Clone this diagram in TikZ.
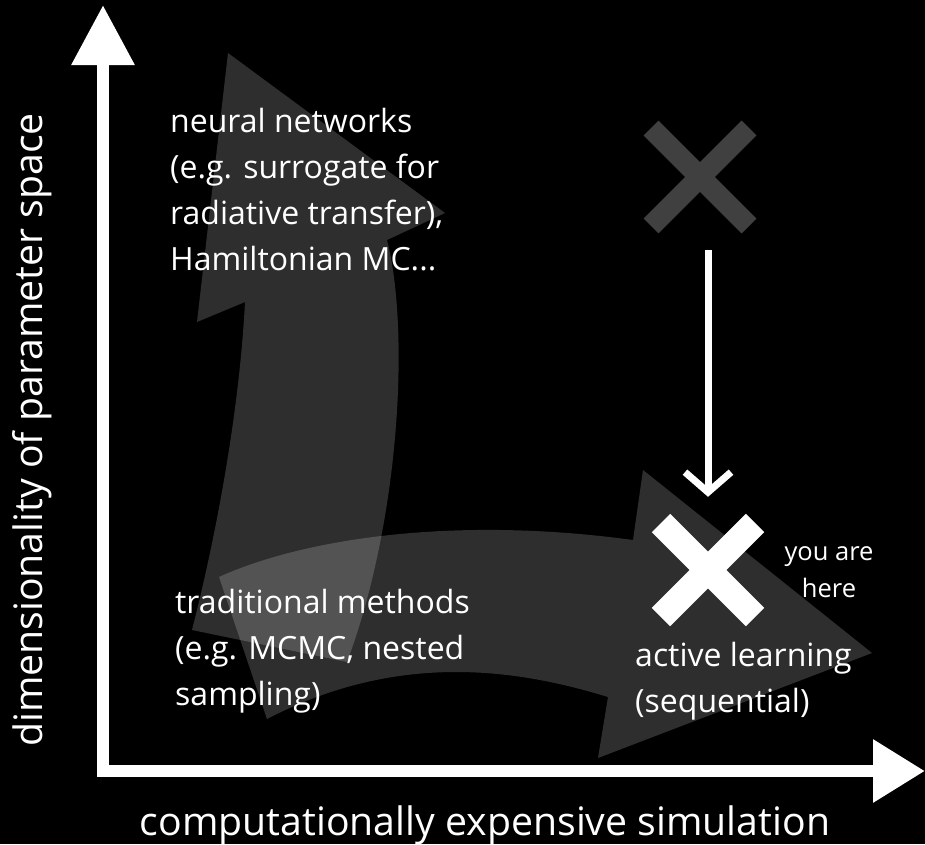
\documentclass[tikz,border=0pt]{standalone}
\usepackage{fontspec}
\setmainfont{Open Sans}
\usetikzlibrary{arrows.meta}
\definecolor{xgray}{HTML}{404040}
\begin{document}
\begin{tikzpicture}[x=1pt,y=-1pt,
  bigarrow/.style={fill=white, fill opacity=0.18},
  axisline/.style={draw=white, line width=12.5pt, line join=miter},
  lbl/.style={text=white, font=\fontsize{32}{46}\selectfont, align=left, inner sep=0pt},
  small/.style={text=white, font=\fontsize{25.5}{37}\selectfont, align=center, inner sep=0pt},
  axlbl/.style={text=white, font=\fontsize{39.2}{46}\selectfont, inner sep=0pt},
  xbox/.style={minimum size=146pt, inner sep=0pt},
  grayx/.style={draw=xgray, line width=21pt},
  whitex/.style={draw=white, line width=26pt},
  conn/.style={draw=white, line width=7pt, -{Straight Barb[length=20pt,width=46pt]}}]
\useasboundingbox (0,0) rectangle (925,844);
\fill[black] (0,0) rectangle (925,844);

% translucent vertical curved arrow
\path[bigarrow] (192,630) -- (347,662)
  .. controls (400,520) and (410,330) .. (387,240)
  -- (445,213) -- (228,53) -- (197,322) -- (245,302)
  .. controls (240,400) and (220,520) .. (192,630) -- cycle;
% translucent horizontal curved arrow
\path[bigarrow] (219,577)
  .. controls (300,540) and (450,515) .. (633,540)
  -- (643,470) -- (872,653) -- (598,758) -- (608,697)
  .. controls (520,670) and (400,650) .. (267,719) -- cycle;

% axes
\coordinate (ytop) at (103,5);
\coordinate (origin) at (103,771);
\coordinate (xend) at (925,771);
\draw[axisline, {Triangle[length=60pt,width=60pt]}-{Triangle[length=52pt,width=60pt]}] (ytop) -- (origin) -- (xend);

% crosses
\node[xbox] (gx) at (700,177) {};
\node[xbox] (wx) at (708,570) {};
\draw[grayx] ([shift={(-49,-49)}]gx.center) -- ([shift={(49,49)}]gx.center)
             ([shift={(-49,49)}]gx.center) -- ([shift={(49,-49)}]gx.center);
\draw[whitex] ([shift={(-47,-47)}]wx.center) -- ([shift={(47,47)}]wx.center)
              ([shift={(-47,47)}]wx.center) -- ([shift={(47,-47)}]wx.center);
\draw[conn] (gx.south -| wx.north) -- (wx.north);

% labels (base anchor = baseline of last line)
\node[lbl, anchor=base west] (nn) at (170,270) {neural networks\\(e.g. surrogate for\\radiative transfer),\\Hamiltonian MC...};
\node[lbl, anchor=base west] (tm) at (175,705) {traditional methods\\(e.g. MCMC, nested\\sampling)};
\node[lbl, anchor=base west] (al) at (635,712) {active learning\\(sequential)};
\node[small, anchor=base] (yah) at (829,597) {you are\\here};
\node[axlbl, anchor=base] (xl) at (485,835) {computationally expensive simulation};
\node[axlbl, rotate=90, anchor=base] (yl) at (42,430) {dimensionality of parameter space};
\end{tikzpicture}
\end{document}
